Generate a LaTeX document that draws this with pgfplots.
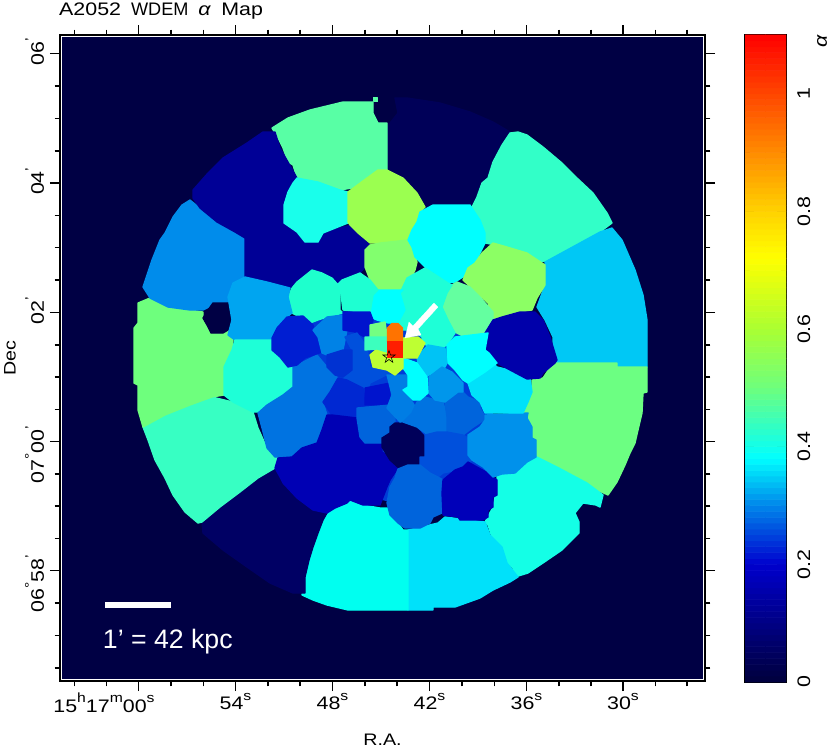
\documentclass[border=0pt]{standalone}
\usepackage{pgfplots}
\pgfplotsset{compat=1.18}
\usepackage{fontspec}
\setmainfont{Liberation Sans}
\newfontfamily\tl[FakeStretch=1.18]{Liberation Sans}
\newcommand\tfs{\tl\fontsize{13.6pt}{15pt}\selectfont}
\newcommand\sups[1]{\raisebox{0.52em}{\fontsize{10pt}{10pt}\selectfont #1}}
\newcommand\pr{\rlap{\raisebox{0.5em}{\fontsize{10pt}{10pt}\selectfont ’}}}
\newcommand\reg[4]{\addplot[draw={rgb,255:red,#1;green,#2;blue,#3},line width=1pt,line join=round,fill={rgb,255:red,#1;green,#2;blue,#3}] coordinates {#4} -- cycle;}
\definecolor{bgnavy}{RGB}{0,0,68}
\pgfplotsset{colormap={cb}{rgb255(0)=(0,0,60) rgb255(20)=(0,0,205) rgb255(21)=(0,15,210) rgb255(30)=(0,135,235) rgb255(38)=(0,255,255) rgb255(50)=(110,255,125) rgb255(60)=(170,255,50) rgb255(72)=(255,255,0) rgb255(80)=(255,210,0) rgb255(90)=(255,140,0) rgb255(100)=(255,70,0) rgb255(110)=(255,0,0)}}
\begin{document}
\begin{tikzpicture}
\path[use as bounding box] (0,0) rectangle (622.5pt,-561pt);
\node[anchor=west,inner sep=0pt,font=\tfs] at (44.2pt,-8.6pt) {A2052\hspace{7.5pt}{\rmfamily\fontsize{13.6pt}{15pt}\selectfont WDEM}\hspace{7.5pt}{\itshape α}\hspace{8pt}Map};
\begin{axis}[
  at={(45pt,-510.75pt)},anchor=south west,scale only axis,
  width=483.75pt,height=484.5pt,
  xmin=60,xmax=705,ymin=35,ymax=681,y dir=reverse,
  axis line style={black,line width=1.1pt},
  axis background/.style={fill=bgnavy},
  tick align=outside,tick pos=both,
  major tick length=7.5pt,minor tick length=4pt,
  every tick/.style={black,line width=0.8pt},
  xtick={138.7,235.5,332.5,429.5,526.5,623},
  minor xtick={74.2,106.5,171,203.3,268,300,365,397,462,494.5,559,591,655.5,687},
  ytick={53.5,183,312.3,441.5,570.7},
  minor ytick={86,118.5,151,215.4,247.8,280,345,377,409.5,474,506,538.5,603,635.5,668},
  xticklabels={\llap{15\sups{h}17\sups{m}}00\sups{s},54\sups{s},48\sups{s},42\sups{s},36\sups{s},30\sups{s}},
  yticklabels={06\pr,04\pr,02\pr,\llap{07\sups{°}}00\pr,\llap{06\sups{°}}58\pr},
  xticklabel pos=bottom,yticklabel pos=left,
  xticklabel style={font=\tfs,anchor=north,yshift=2pt},
  yticklabel style={font=\tfs,rotate=90,anchor=south,yshift=1pt},
  xlabel={R.A.},ylabel={Dec},
  xlabel style={font=\tl\fontsize{12.5pt}{14pt}\selectfont,at={(axis description cs:0.5,-0.075)},anchor=north},
  ylabel style={font=\tl\fontsize{12.5pt}{14pt}\selectfont,at={(axis description cs:-0.0775,0.5)},rotate=0,anchor=center},
]
% inner white frame
\addplot[white,line width=0.8pt] coordinates {(61.8,36.8) (703.2,36.8) (703.2,679.2) (61.8,679.2)} -- cycle;
% outer ring
\reg{0}{0}{88}{(395,98)(407,98)(440,103)(470,112)(493,122)(510,132)(506,143)(502,153)(497,162)(493,170)(488,178)(480,190)(477,200)(470,205)(433,205)(425,207)(417,193)(403,178)(387,170)(387,127)(398,113)}
\reg{88}{255}{165}{(272,128)(288,118)(310,110)(343,102)(373,102)(373,113)(378,123)(387,123)(387,172)(378,170)(367,178)(352,188)(340,190)(318,182)(297,178)(293,165)(288,162)(283,148)(279,140)}
\reg{88}{255}{165}{(373.5,97.5)(377.5,97.5)(377.5,101.5)(373.5,101.5)}
\reg{50}{255}{200}{(510,133)(518,132)(527,135)(543,147)(562,163)(577,178)(593,193)(607,213)(612,223)(600,232)(580,243)(567,250)(550,260)(540,262)(527,253)(507,247)(485,243)(485,233)(480,220)(472,207)(477,197)(482,183)(488,178)(493,162)(502,145)}
\reg{0}{200}{245}{(545,262)(567,250)(600,232)(612,228)(622,240)(635,270)(643,295)(647,320)(647,367)(553,367)(553,337)(545,320)(537,307)(545,285)}
\reg{108}{255}{130}{(532,380)(543,378)(553,363)(617,363)(617,367)(647,367)(647,392)(643,393)(642,413)(638,430)(635,443)(630,453)(625,465)(617,482)(608,495)(597,490)(587,483)(573,475)(557,467)(537,457)(532,438)(528,418)(523,413)(528,402)(532,392)}
\reg{20}{255}{230}{(537,457)(557,467)(587,483)(603,495)(600,507)(596,505)(583,503)(575,513)(579,522)(579,533)(562,550)(543,563)(528,573)(515,577)(513,568)(507,563)(502,547)(493,540)(488,525)(485,522)(493,507)(497,487)(497,475)(515,473)(527,462)}
\reg{0}{225}{250}{(408,530)(438,523)(445,517)(485,522)(490,535)(502,547)(507,563)(518,577)(510,582)(493,590)(480,598)(455,607)(433,607)(433,610)(408,610)}
\reg{0}{255}{240}{(302,595)(305,577)(310,560)(313,547)(318,533)(323,520)(327,513)(335,508)(347,503)(350,500)(363,505)(380,508)(388,508)(403,530)(408,530)(408,610)(348,610)(327,605)(313,600)}
\reg{0}{0}{100}{(202,522)(220,507)(240,492)(258,478)(275,468)(283,483)(297,498)(313,510)(327,513)(323,520)(318,533)(313,547)(309,560)(305,577)(305,593)(293,593)(270,583)(247,567)(223,550)(203,533)}
\reg{55}{255}{195}{(143,427)(165,415)(190,405)(212,397)(233,402)(253,412)(258,428)(267,448)(278,458)(275,468)(258,478)(240,492)(220,507)(202,522)(198,523)(185,512)(173,495)(165,478)(155,460)(148,440)}
\reg{110}{255}{125}{(134,328)(138,323)(138,303)(150,298)(168,307)(190,310)(203,312)(203,320)(210,332)(228,328)(233,340)(232,350)(225,365)(224,395)(212,397)(190,405)(165,415)(143,427)(138,410)(138,385)(134,383)}
\reg{0}{140}{235}{(143,287)(148,272)(152,260)(160,240)(165,233)(173,217)(182,205)(190,200)(200,208)(217,222)(235,232)(245,238)(245,277)(233,283)(228,297)(227,303)(217,303)(203,310)(190,310)(168,307)(150,298)}
\reg{0}{0}{68}{(203,318)(208,310)(213,303)(228,303)(232,312)(232,325)(228,330)(223,333)(211,333)(207,325)}
\reg{0}{0}{150}{(193,190)(208,173)(223,158)(247,143)(263,132)(275,132)(280,148)(288,162)(297,178)(288,193)(284,205)(284,223)(297,232)(305,242)(318,242)(323,233)(343,227)(352,225)(358,233)(370,245)(365,248)(365,267)(360,273)(342,280)(337,285)(332,278)(312,272)(297,282)(290,288)(267,282)(253,280)(245,277)(245,238)(235,232)(217,222)(200,208)(193,198)}
% base of the centre
\reg{0}{60}{215}{(300,312)(400,312)(480,340)(500,460)(430,510)(340,490)(270,400)}
% second ring
\reg{25}{255}{235}{(297,178)(318,182)(340,190)(348,192)(348,223)(343,225)(323,233)(318,242)(305,242)(297,232)(284,223)(284,205)(288,192)(293,183)}
\reg{155}{255}{80}{(348,192)(367,178)(378,170)(387,170)(403,178)(417,193)(425,207)(420,212)(417,222)(412,230)(408,240)(380,243)(370,243)(358,233)(350,225)(348,222)}
\reg{130}{255}{110}{(370,245)(380,243)(408,240)(415,255)(417,262)(415,270)(410,280)(403,290)(377,290)(372,285)(365,267)(365,250)}
\reg{0}{255}{255}{(433,205)(470,205)(480,220)(485,233)(485,243)(480,253)(475,265)(463,277)(455,282)(448,283)(425,267)(415,257)(412,247)(408,240)(412,230)(417,222)(420,212)}
\reg{140}{255}{100}{(482,253)(493,243)(507,247)(527,253)(545,265)(545,285)(537,298)(532,310)(520,312)(502,317)(493,320)(488,303)(477,293)(463,280)(468,268)(475,263)}
\reg{100}{255}{160}{(457,282)(470,287)(480,297)(493,312)(493,320)(488,333)(465,337)(455,332)(448,318)(442,307)(447,293)(452,285)}
\reg{30}{255}{215}{(425,268)(448,283)(452,285)(447,293)(442,307)(448,320)(455,333)(447,345)(437,350)(422,343)(422,337)(413,330)(403,330)(398,323)(405,310)(400,293)(407,278)}
\reg{0}{255}{255}{(373,292)(378,290)(403,290)(400,293)(405,310)(398,323)(388,323)(377,320)(370,317)}
\reg{30}{255}{205}{(312,270)(322,273)(332,278)(340,287)(340,310)(343,313)(327,317)(318,320)(310,323)(300,317)(292,313)(288,297)(292,288)(297,282)}
\reg{30}{255}{210}{(337,285)(342,280)(360,273)(370,280)(378,290)(373,295)(370,313)(343,310)(340,287)}
\reg{0}{165}{240}{(233,283)(245,277)(267,282)(290,288)(288,297)(292,313)(283,320)(277,327)(272,340)(235,340)(228,335)(232,320)(228,297)}
\reg{30}{255}{215}{(232,350)(235,340)(272,340)(277,345)(287,362)(293,367)(293,387)(283,395)(267,405)(258,412)(253,412)(233,402)(224,395)(224,367)}
% inner cells
\reg{0}{115}{225}{(293,367)(317,355)(327,367)(338,378)(330,392)(323,402)(327,415)(322,430)(317,443)(302,448)(292,457)(275,457)(267,448)(262,428)(258,413)(267,405)(283,395)(293,387)}
\reg{0}{30}{210}{(272,338)(277,328)(287,317)(303,316)(313,325)(318,340)(320,348)(322,352)(305,358)(297,365)(288,367)(280,357)(272,350)}
\reg{0}{130}{230}{(313,330)(327,317)(343,315)(347,330)(345,340)(343,350)(327,355)(322,353)(318,337)}
\reg{0}{20}{205}{(343,312)(370,312)(373,320)(370,335)(365,337)(355,332)(343,330)}
\reg{0}{80}{220}{(345,337)(357,333)(367,347)(370,367)(390,367)(390,373)(370,383)(368,392)(357,392)(343,377)(352,370)(352,350)}
\reg{0}{50}{210}{(327,355)(343,350)(352,350)(352,370)(343,377)(335,375)(327,367)}
\reg{0}{40}{210}{(338,378)(347,380)(363,388)(365,405)(360,413)(357,418)(340,418)(332,415)(323,402)(330,392)}
\reg{0}{20}{205}{(365,388)(390,383)(390,405)(365,405)}
\reg{0}{0}{180}{(327,415)(332,415)(357,418)(360,437)(365,443)(382,443)(382,452)(390,457)(398,468)(390,480)(387,487)(380,505)(363,505)(350,500)(347,503)(335,508)(327,513)(313,510)(297,498)(283,483)(280,477)(275,468)(278,458)(292,457)(302,448)(317,443)(322,430)}
\reg{0}{100}{220}{(357,408)(390,405)(395,408)(395,422)(390,433)(382,443)(365,443)(360,437)(357,418)}
\reg{0}{0}{90}{(395,423)(412,423)(425,437)(425,457)(420,465)(407,465)(400,469)(390,460)(382,447)(382,438)(390,433)(390,427)}
\reg{0}{125}{228}{(387,375)(408,375)(408,387)(403,390)(413,403)(417,410)(408,420)(400,422)(387,408)(392,395)(390,387)}
\reg{0}{115}{225}{(412,413)(417,402)(425,397)(443,402)(447,417)(447,432)(437,432)(428,435)(417,427)(403,422)}
\reg{0}{100}{220}{(445,402)(458,392)(463,392)(468,397)(480,402)(480,408)(484,415)(484,420)(472,428)(463,435)(447,432)(447,417)}
\reg{0}{80}{220}{(425,435)(437,432)(447,432)(463,435)(468,438)(468,455)(472,460)(458,470)(443,473)(438,477)(430,473)(420,465)(420,457)(425,457)}
\reg{0}{100}{220}{(398,469)(408,465)(420,465)(430,473)(438,477)(443,480)(442,513)(433,517)(430,523)(420,528)(405,528)(398,523)(390,515)(387,503)(390,487)(395,478)}
\reg{0}{0}{185}{(443,480)(455,470)(463,467)(468,462)(477,467)(488,473)(497,480)(497,495)(493,497)(493,507)(488,510)(488,517)(483,520)(460,520)(458,517)(443,515)(442,493)}
\reg{0}{145}{235}{(485,415)(528,413)(527,418)(532,427)(532,438)(536,440)(536,457)(527,462)(515,473)(502,474)(493,477)(483,467)(472,460)(468,455)(468,435)(480,427)(485,420)}
\reg{0}{225}{250}{(468,383)(485,372)(493,363)(497,367)(510,370)(530,378)(532,392)(528,402)(523,413)(485,413)(480,402)(472,395)}
\reg{0}{0}{170}{(485,333)(493,320)(502,317)(520,312)(535,312)(543,320)(550,337)(557,360)(555,363)(543,373)(540,378)(527,379)(510,370)(497,363)(489,353)(485,350)}
\reg{0}{255}{255}{(447,345)(455,337)(488,333)(485,350)(489,353)(497,363)(485,372)(468,383)(463,380)(455,370)(447,362)}
\reg{0}{195}{245}{(417,357)(428,345)(445,348)(447,363)(445,367)(425,377)(418,363)}
\reg{0}{150}{235}{(429,377)(442,367)(452,372)(463,383)(463,392)(458,392)(445,402)(435,400)(429,393)}
\reg{0}{255}{255}{(403,358)(417,363)(427,377)(428,393)(420,400)(413,400)(403,390)(408,387)(408,375)(403,368)}
% centre
\reg{190}{255}{50}{(370,355)(377,349)(387,352)(403,358)(403,368)(395,375)(387,370)(373,367)}
\reg{190}{255}{50}{(403,338)(418,337)(425,343)(417,358)(403,358)}
\reg{115}{255}{130}{(370,325)(385,322)(387,335)(387,338)(370,337)}
\reg{60}{255}{190}{(365,337)(387,337)(387,352)(377,349)(365,350)}
\reg{255}{115}{0}{(387.5,328)(392,323.5)(398,323.5)(402.5,328)(402.5,342)(387.5,342)}
\reg{255}{30}{0}{(387.5,342)(402.5,342)(402.5,357.5)(387.5,357.5)}
% star
\addplot[black,line width=0.4pt] coordinates {(389,350.5)(390.5,355)(395.2,355)(391.4,357.8)(392.8,362.3)(389,359.5)(385.2,362.3)(386.6,357.8)(382.8,355)(387.5,355)} -- cycle;
% arrow
\addplot[fill=white,draw=white,line width=0.2pt] coordinates {(434,303)(438,307)(418,329)(421,335)(405,338)(409,322)(413,326)} -- cycle;
% scale bar
\addplot[fill=white,draw=white,line width=0.2pt] coordinates {(105,602.5)(170,602.5)(170,607.5)(105,607.5)} -- cycle;
\end{axis}
\node[anchor=west,inner sep=0pt,text=white,font=\fontsize{20pt}{22pt}\selectfont] at (77pt,-481pt) {1’ = 42 kpc};
\begin{axis}[
  at={(558.75pt,-511.5pt)},anchor=south west,scale only axis,
  width=30.75pt,height=485.25pt,
  xmin=-0.5,xmax=1.5,ymin=0,ymax=1.1,
  colormap name=cb,point meta min=0,point meta max=1.1,
  axis line style={black,line width=1pt},
  xtick=\empty,
  ytick={0,0.2,0.4,0.6,0.8,1},
  minor ytick={0.1,0.3,0.5,0.7,0.9},
  tick align=inside,tick pos=both,
  major tick length=6.75pt,minor tick length=3.5pt,
  every tick/.style={black,line width=0.8pt},
  yticklabel pos=right,
  yticklabels={0,0.2,0.4,0.6,0.8,1},
  yticklabel style={font=\tfs,rotate=90,anchor=north,yshift=-5pt},
]
\addplot[matrix plot*,mesh/cols=2,point meta=y] coordinates {
(0,0.005)(1,0.005)(0,0.015)(1,0.015)(0,0.025)(1,0.025)(0,0.035)(1,0.035)(0,0.045)(1,0.045)(0,0.055)(1,0.055)(0,0.065)(1,0.065)(0,0.075)(1,0.075)(0,0.085)(1,0.085)(0,0.095)(1,0.095)
(0,0.105)(1,0.105)(0,0.115)(1,0.115)(0,0.125)(1,0.125)(0,0.135)(1,0.135)(0,0.145)(1,0.145)(0,0.155)(1,0.155)(0,0.165)(1,0.165)(0,0.175)(1,0.175)(0,0.185)(1,0.185)(0,0.195)(1,0.195)
(0,0.205)(1,0.205)(0,0.215)(1,0.215)(0,0.225)(1,0.225)(0,0.235)(1,0.235)(0,0.245)(1,0.245)(0,0.255)(1,0.255)(0,0.265)(1,0.265)(0,0.275)(1,0.275)(0,0.285)(1,0.285)(0,0.295)(1,0.295)
(0,0.305)(1,0.305)(0,0.315)(1,0.315)(0,0.325)(1,0.325)(0,0.335)(1,0.335)(0,0.345)(1,0.345)(0,0.355)(1,0.355)(0,0.365)(1,0.365)(0,0.375)(1,0.375)(0,0.385)(1,0.385)(0,0.395)(1,0.395)
(0,0.405)(1,0.405)(0,0.415)(1,0.415)(0,0.425)(1,0.425)(0,0.435)(1,0.435)(0,0.445)(1,0.445)(0,0.455)(1,0.455)(0,0.465)(1,0.465)(0,0.475)(1,0.475)(0,0.485)(1,0.485)(0,0.495)(1,0.495)
(0,0.505)(1,0.505)(0,0.515)(1,0.515)(0,0.525)(1,0.525)(0,0.535)(1,0.535)(0,0.545)(1,0.545)(0,0.555)(1,0.555)(0,0.565)(1,0.565)(0,0.575)(1,0.575)(0,0.585)(1,0.585)(0,0.595)(1,0.595)
(0,0.605)(1,0.605)(0,0.615)(1,0.615)(0,0.625)(1,0.625)(0,0.635)(1,0.635)(0,0.645)(1,0.645)(0,0.655)(1,0.655)(0,0.665)(1,0.665)(0,0.675)(1,0.675)(0,0.685)(1,0.685)(0,0.695)(1,0.695)
(0,0.705)(1,0.705)(0,0.715)(1,0.715)(0,0.725)(1,0.725)(0,0.735)(1,0.735)(0,0.745)(1,0.745)(0,0.755)(1,0.755)(0,0.765)(1,0.765)(0,0.775)(1,0.775)(0,0.785)(1,0.785)(0,0.795)(1,0.795)
(0,0.805)(1,0.805)(0,0.815)(1,0.815)(0,0.825)(1,0.825)(0,0.835)(1,0.835)(0,0.845)(1,0.845)(0,0.855)(1,0.855)(0,0.865)(1,0.865)(0,0.875)(1,0.875)(0,0.885)(1,0.885)(0,0.895)(1,0.895)
(0,0.905)(1,0.905)(0,0.915)(1,0.915)(0,0.925)(1,0.925)(0,0.935)(1,0.935)(0,0.945)(1,0.945)(0,0.955)(1,0.955)(0,0.965)(1,0.965)(0,0.975)(1,0.975)(0,0.985)(1,0.985)(0,0.995)(1,0.995)
(0,1.005)(1,1.005)(0,1.015)(1,1.015)(0,1.025)(1,1.025)(0,1.035)(1,1.035)(0,1.045)(1,1.045)(0,1.055)(1,1.055)(0,1.065)(1,1.065)(0,1.075)(1,1.075)(0,1.085)(1,1.085)(0,1.095)(1,1.095)
};
\end{axis}
\node[rotate=90,inner sep=0pt,font=\tfs\itshape] at (616.5pt,-31pt) {α};
\end{tikzpicture}
\end{document}
